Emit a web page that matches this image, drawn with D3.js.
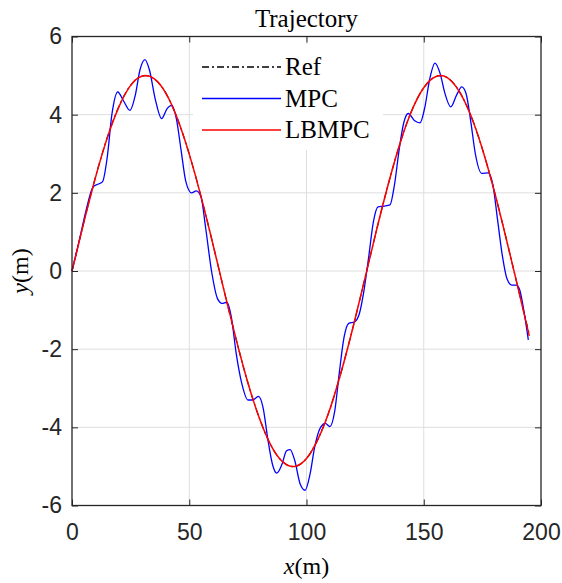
<!DOCTYPE html>
<html>
<head>
<meta charset="utf-8">
<script src="https://cdn.jsdelivr.net/npm/d3@7"></script>
<style>
  body { margin: 0; background: #fff; }
  svg { display: block; }
</style>
</head>
<body>
<svg id="chart" width="562" height="583"></svg>
<script>
// reference trajectory
const refX = [0, 5, 10, 15, 20, 25, 30, 35, 40, 45, 50, 55, 60, 65, 70, 75, 80, 85, 90, 95,
  100, 105, 110, 115, 120, 125, 130, 135, 140, 145, 150, 155, 160, 165, 170, 175, 180, 185, 190, 195];
const refY = [0, 1.24, 2.40, 3.41, 4.21, 4.75, 4.99, 4.92, 4.55, 3.89, 2.99, 1.91, 0.71, -0.54, -1.75,
  -2.86, -3.78, -4.48, -4.89, -5.00, -4.80, -4.29, -3.53, -2.54, -1.40, -0.17, 1.08, 2.25, 3.29, 4.12,
  4.69, 4.97, 4.95, 4.61, 3.99, 3.12, 2.06, 0.87, -0.38, -1.62];

// LBMPC follows the reference almost exactly
const lbmpcX = refX;
const lbmpcY = [0, 1.23, 2.39, 3.40, 4.20, 4.75, 4.99, 4.92, 4.55, 3.89, 2.99, 1.91, 0.71, -0.54, -1.75,
  -2.86, -3.78, -4.48, -4.89, -5.00, -4.80, -4.29, -3.53, -2.54, -1.40, -0.17, 1.08, 2.25, 3.29, 4.12,
  4.69, 4.97, 4.95, 4.61, 3.99, 3.12, 2.06, 0.87, -0.38, -1.66];

// MPC wobbles around the reference
const mpcX = [0, 3, 6, 9, 11, 13, 15, 17, 19.5, 22, 24.7, 27, 29, 31.1, 33, 35.5, 38.2, 40.5, 42.5,
  44.5, 46.5, 48.5, 51, 53, 55, 57, 59.5, 62, 64, 66, 68, 70, 72.5, 75, 77, 79.5, 81.5, 83.5, 85.5,
  87.3, 89.5, 91.5, 93, 95, 97.3, 99.4, 101.5, 103.5, 106, 108, 110, 112, 114, 116, 118, 120.5,
  122.5, 124.5, 126.5, 128.5, 130.5, 133, 135.6, 137.5, 139.5, 141.5, 143.4, 146, 148.4, 150.5,
  152.5, 154.8, 157, 159, 161.5, 164, 166.2, 168, 170, 172, 174.7, 177.5, 179.5, 181.5, 183.5,
  185.5, 187.5, 189.6, 191, 192.5, 194.6];
const mpcY = [0, 0.75, 1.55, 2.15, 2.22, 2.28, 2.9, 4.0, 4.58, 4.35, 4.11, 4.5, 5.15, 5.41, 5.15,
  4.4, 3.9, 4.15, 4.24, 3.9, 3.1, 2.3, 2.0, 2.05, 1.9, 1.1, 0.0, -0.7, -0.83, -0.8, -1.2, -2.1,
  -2.9, -3.3, -3.3, -3.21, -3.5, -4.3, -4.95, -5.17, -4.95, -4.6, -4.57, -4.85, -5.45, -5.61, -5.2,
  -4.5, -4.0, -3.9, -3.98, -3.6, -2.6, -1.7, -1.34, -1.3, -1.1, -0.5, 0.35, 1.25, 1.64, 1.66, 1.69,
  2.2, 3.1, 3.8, 4.03, 3.85, 3.79, 4.2, 4.9, 5.32, 5.05, 4.55, 4.2, 4.5, 4.71, 4.55, 3.85, 3.0, 2.5,
  2.51, 2.2, 1.3, 0.4, -0.2, -0.36, -0.36, -0.5, -0.95, -1.76];

const xTicks = [0, 50, 100, 150, 200];
const yTicks = [-6, -4, -2, 0, 2, 4, 6];
const legendNames = ['Ref', 'MPC', 'LBMPC'];

const pLeft = 72, pRight = 541, pTop = 36.5, pBottom = 505.5;
const axisColor = '#262626';
const sans = '"Liberation Sans", Arial, sans-serif';
const serif = '"Liberation Serif", "Times New Roman", serif';

const svg = d3.select('#chart');
const x = d3.scaleLinear().domain([0, 200]).range([pLeft, pRight]);
const y = d3.scaleLinear().domain([-6, 6]).range([pBottom, pTop]);

// grid
const grid = svg.append('g').attr('stroke', '#dedede').attr('stroke-width', 1);
grid.selectAll('.gx').data(xTicks.slice(1, -1)).join('line')
  .attr('x1', d => x(d)).attr('x2', d => x(d)).attr('y1', pTop).attr('y2', pBottom);
grid.selectAll('.gy').data(yTicks.slice(1, -1)).join('line')
  .attr('y1', d => y(d)).attr('y2', d => y(d)).attr('x1', pLeft).attr('x2', pRight);

// curves
const line = (xs, ys, curve) => d3.line().x(i => x(xs[i])).y(i => y(ys[i])).curve(curve)(d3.range(xs.length));

svg.append('path').attr('d', line(refX, refY, d3.curveNatural))
  .attr('fill', 'none').attr('stroke', '#000').attr('stroke-width', 1.2).attr('stroke-dasharray', '7,3,2,3');
svg.append('path').attr('d', line(mpcX, mpcY, d3.curveMonotoneX))
  .attr('fill', 'none').attr('stroke', '#0000ff').attr('stroke-width', 1.3);
svg.append('path').attr('d', line(lbmpcX, lbmpcY, d3.curveNatural))
  .attr('fill', 'none').attr('stroke', '#ff0000').attr('stroke-width', 1.5);

// axes
function styleAxis(g) {
  g.select('.domain').remove();
  g.selectAll('.tick line').attr('stroke', axisColor).attr('stroke-width', 1);
  g.selectAll('.tick text').attr('fill', axisColor).style('font-family', sans).style('font-size', '23px');
}
const fmt = d => String(d);
svg.append('g').attr('transform', `translate(0,${pBottom})`)
  .call(d3.axisBottom(x).tickValues(xTicks).tickSize(-6).tickPadding(18).tickFormat(fmt)).call(styleAxis);
svg.append('g').attr('transform', `translate(0,${pTop})`)
  .call(d3.axisTop(x).tickValues(xTicks).tickSize(-6).tickFormat('')).call(styleAxis);
svg.append('g').attr('transform', `translate(${pLeft},0)`)
  .call(d3.axisLeft(y).tickValues(yTicks).tickSize(-6).tickPadding(10).tickFormat(fmt)).call(styleAxis);
svg.append('g').attr('transform', `translate(${pRight},0)`)
  .call(d3.axisRight(y).tickValues(yTicks).tickSize(-6).tickFormat('')).call(styleAxis);

svg.append('rect').attr('x', pLeft).attr('y', pTop).attr('width', pRight - pLeft).attr('height', pBottom - pTop)
  .attr('fill', 'none').attr('stroke', axisColor).attr('stroke-width', 1.3);

// legend
const lg = svg.append('g');
lg.append('rect').attr('x', 193).attr('y', 44).attr('width', 190).attr('height', 106).attr('fill', '#fff');
const legendStyles = [
  { stroke: '#000', width: 1.4, dash: '7,3,2,3' },
  { stroke: '#0000ff', width: 1.3, dash: null },
  { stroke: '#ff0000', width: 1.5, dash: null }
];
legendNames.forEach((name, i) => {
  const ly = 67 + i * 31.5;
  lg.append('line').attr('x1', 202).attr('x2', 281).attr('y1', ly).attr('y2', ly)
    .attr('stroke', legendStyles[i].stroke).attr('stroke-width', legendStyles[i].width)
    .attr('stroke-dasharray', legendStyles[i].dash);
  lg.append('text').attr('x', 285).attr('y', ly + 8).text(name)
    .style('font-family', serif).style('font-size', '25px').attr('fill', '#000');
});

// title and labels
svg.append('text').attr('x', (pLeft + pRight) / 2).attr('y', 27).attr('text-anchor', 'middle')
  .style('font-family', serif).style('font-size', '25px').attr('fill', '#000').text('Trajectory');

const xl = svg.append('text').attr('x', (pLeft + pRight) / 2).attr('y', 574).attr('text-anchor', 'middle')
  .style('font-family', serif).style('font-size', '24px').attr('fill', '#000');
xl.append('tspan').style('font-style', 'italic').text('x');
xl.append('tspan').text('(m)');

const yl = svg.append('text').attr('transform', `translate(28,${(pTop + pBottom) / 2}) rotate(-90)`)
  .attr('text-anchor', 'middle')
  .style('font-family', serif).style('font-size', '24px').attr('fill', '#000');
yl.append('tspan').style('font-style', 'italic').text('y');
yl.append('tspan').text('(m)');
</script>
</body>
</html>
